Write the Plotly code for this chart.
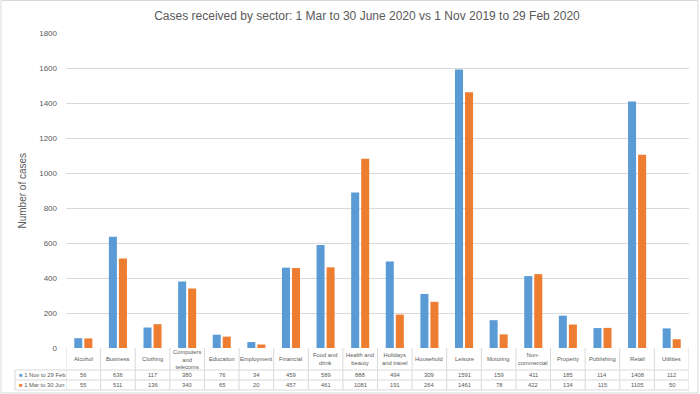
import plotly.graph_objects as go

categories = ["Alcohol", "Business", "Clothing", "Computers and telecoms", "Education",
              "Employment", "Financial", "Food and drink", "Health and beauty",
              "Holidays and travel", "Household", "Leisure", "Motoring", "Non-commercial",
              "Property", "Publishing", "Retail", "Utilities"]
tick_labels = ["Alcohol", "Business", "Clothing", "Computers<br>and<br>telecoms", "Education",
               "Employment", "Financial", "Food and<br>drink", "Health and<br>beauty",
               "Holidays<br>and travel", "Household", "Leisure", "Motoring", "Non-<br>commercial",
               "Property", "Publishing", "Retail", "Utilities"]
series_names = ["1 Nov to 29 Feb", "1 Mar to 30 Jun"]
nov_feb = [56, 636, 117, 380, 76, 34, 459, 589, 888, 494, 309, 1591, 159, 411, 185, 114, 1408, 112]
mar_jun = [55, 511, 136, 340, 65, 20, 457, 461, 1081, 191, 264, 1461, 78, 422, 134, 115, 1105, 50]
y_ticks = [0, 200, 400, 600, 800, 1000, 1200, 1400, 1600, 1800]

colors = ["#5B9BD5", "#ED7D31"]
grey = "#595959"
line_c = "#D9D9D9"
font = "Liberation Sans"

W, H = 700, 394
L, R, T, B = 66, 689, 33, 348
pw, ph = R - L, B - T

def px_x(x):
    return (x - L) / pw

def px_y(y):
    return (B - y) / ph

n = len(categories)
xs = list(range(n))

fig = go.Figure()
for name, vals, c in zip(series_names, [nov_feb, mar_jun], colors):
    fig.add_trace(go.Bar(x=xs, y=vals, name=name, marker=dict(color=c, line=dict(width=0)),
                         hovertemplate="%{y}<extra>" + name + "</extra>"))

shapes = []
ann = []
for i in range(n + 1):
    shapes.append(dict(type="line", xref="x", yref="paper", x0=i - 0.5, x1=i - 0.5,
                       y0=0, y1=px_y(390), line=dict(color=line_c, width=1)))
for yy in [370, 380, 390]:
    shapes.append(dict(type="line", xref="paper", yref="paper", x0=px_x(15), x1=1,
                       y0=px_y(yy), y1=px_y(yy), line=dict(color=line_c, width=1)))
shapes.append(dict(type="line", xref="paper", yref="paper", x0=px_x(15), x1=px_x(15),
                   y0=px_y(370), y1=px_y(390), line=dict(color=line_c, width=1)))
shapes.append(dict(type="rect", xref="paper", yref="paper", x0=px_x(1), x1=px_x(698),
                   y0=px_y(393), y1=px_y(0.5), line=dict(color=line_c, width=1)))

small = dict(size=5.8, color=grey, family=font)
for i, lab in enumerate(tick_labels):
    ann.append(dict(xref="x", yref="paper", x=i, y=px_y(359), text=lab, showarrow=False,
                    font=small, yanchor="middle"))
    ann.append(dict(xref="x", yref="paper", x=i, y=px_y(375), text=str(nov_feb[i]), showarrow=False,
                    font=small, yanchor="middle"))
    ann.append(dict(xref="x", yref="paper", x=i, y=px_y(385), text=str(mar_jun[i]), showarrow=False,
                    font=small, yanchor="middle"))

for name, c, yy in zip(series_names, colors, [375, 385]):
    ann.append(dict(xref="paper", yref="paper", x=px_x(17), y=px_y(yy), xanchor="left",
                    yanchor="middle", showarrow=False,
                    text=f'<span style="color:{c}">■</span> {name}', font=small))

ann.append(dict(xref="paper", yref="paper", x=px_x(22), y=0.5, text="Number of cases",
                textangle=-90, showarrow=False, xanchor="center", yanchor="middle",
                font=dict(size=10, color=grey, family=font)))

fig.update_layout(
    width=W, height=H,
    margin=dict(l=L, r=W - R, t=T, b=H - B, pad=0),
    paper_bgcolor="white", plot_bgcolor="white",
    title=dict(text="Cases received by sector: 1 Mar to 30 June 2020 vs 1 Nov 2019 to 29 Feb 2020",
               x=367 / W, xanchor="center", y=1 - 16 / H, yanchor="middle",
               font=dict(size=12, color=grey, family=font)),
    barmode="group", bargap=0.42, bargroupgap=0.2,
    showlegend=False,
    xaxis=dict(range=[-0.5, n - 0.5], showticklabels=False, showgrid=False, zeroline=False,
               showline=False, ticks=""),
    yaxis=dict(range=[0, 1800], tickvals=y_ticks, showgrid=True, gridcolor=line_c, gridwidth=1,
               zeroline=False, showline=False, ticks="", ticklabelstandoff=8,
               tickfont=dict(size=8, color=grey, family=font)),
    shapes=shapes, annotations=ann,
)

fig.write_html("out.html", config={"displayModeBar": False},
               post_script="document.body.style.margin='0';document.body.style.overflow='hidden';")
